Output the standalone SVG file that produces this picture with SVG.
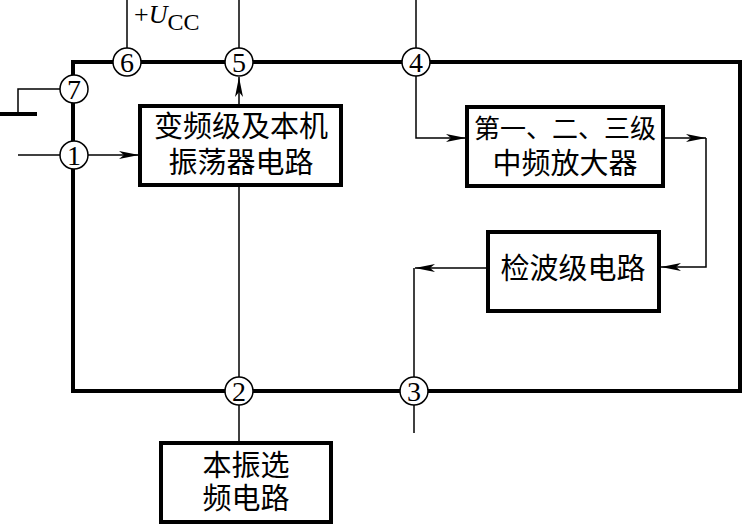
<svg xmlns="http://www.w3.org/2000/svg" width="743" height="525" viewBox="0 0 743 525">
<style>
.frame{fill:none;stroke:#000;stroke-width:4}
.box{fill:#fff;stroke:#000;stroke-width:4}
.wire{fill:none;stroke:#000;stroke-width:1.5}
.pin{fill:#fff;stroke:#000;stroke-width:1.5}
.num{font-family:"Liberation Serif",serif;font-size:28px;text-anchor:middle;fill:#000}
.cjk{font-family:"Liberation Serif","Noto Sans CJK SC",serif;font-size:29px;text-anchor:middle;fill:#000}
.lbl{font-family:"Liberation Serif",serif;fill:#000}
</style>
<defs>
<marker id="arr" viewBox="0 0 20 10" refX="20" refY="5" markerWidth="20" markerHeight="10" markerUnits="userSpaceOnUse" orient="auto">
<path d="M0,1 L20,5 L0,9 L5,5 Z" fill="#000"/>
</marker>
</defs>
<rect width="743" height="525" fill="#fff"/>
<g id="frame"><rect class="frame" x="73" y="62" width="667" height="329"/></g>
<g id="connectors">
<line class="wire" x1="127" y1="0" x2="127" y2="48"/>
<line class="wire" x1="239" y1="0" x2="239" y2="48"/>
<line class="wire" x1="239" y1="106" x2="239" y2="77" marker-end="url(#arr)"/>
<line class="wire" x1="416" y1="0" x2="416" y2="48"/>
<polyline class="wire" points="416,76 416,138 466,138" marker-end="url(#arr)"/>
<polyline class="wire" points="60,89 18,89 18,114"/>
<line x1="0" y1="114" x2="37" y2="114" stroke="#000" stroke-width="4"/>
<line class="wire" x1="18" y1="155" x2="60" y2="155"/>
<line class="wire" x1="88" y1="155" x2="139" y2="155" marker-end="url(#arr)"/>
<line class="wire" x1="239" y1="186" x2="239" y2="377"/>
<line class="wire" x1="239" y1="405" x2="239" y2="442"/>
<line class="wire" x1="663" y1="138" x2="706" y2="138" marker-end="url(#arr)"/>
<polyline class="wire" points="706,138 706,267 661,267" marker-end="url(#arr)"/>
<line class="wire" x1="487" y1="268" x2="415" y2="268" marker-end="url(#arr)"/>
<line class="wire" x1="414" y1="268" x2="414" y2="377"/>
<line class="wire" x1="414" y1="405" x2="414" y2="433"/>
</g>
<g id="pin6"><circle class="pin" cx="127" cy="62" r="14"/><text class="num" x="127" y="72">6</text></g>
<g id="pin5"><circle class="pin" cx="239" cy="62" r="14"/><text class="num" x="239" y="72">5</text></g>
<g id="pin4"><circle class="pin" cx="416" cy="62" r="14"/><text class="num" x="416" y="72">4</text></g>
<g id="pin7"><circle class="pin" cx="74" cy="89" r="14"/><text class="num" x="74" y="99">7</text></g>
<g id="pin1"><circle class="pin" cx="74" cy="155" r="14"/><text class="num" x="74" y="165">1</text></g>
<g id="pin2"><circle class="pin" cx="239" cy="391" r="14"/><text class="num" x="239" y="401">2</text></g>
<g id="pin3"><circle class="pin" cx="414" cy="391" r="14"/><text class="num" x="414" y="401">3</text></g>
<g id="vcc"><text class="lbl" x="134" y="23" style="font-size:26px">+<tspan font-style="italic">U</tspan><tspan style="font-size:24px" dy="7">CC</tspan></text></g>
<g id="mixer"><rect class="box" x="140" y="106" width="201" height="79"/>
<text class="cjk" x="241" y="137">变频级及本机</text><text class="cjk" x="241" y="173">振荡器电路</text></g>
<g id="ifamp"><rect class="box" x="467" y="107" width="196" height="79"/>
<text class="cjk" x="565" y="138" style="font-size:26px">第一、二、三级</text><text class="cjk" x="565" y="174">中频放大器</text></g>
<g id="detector"><rect class="box" x="488" y="232" width="171" height="79"/>
<text class="cjk" x="573" y="279">检波级电路</text></g>
<g id="oscsel"><rect class="box" x="161" y="443" width="170" height="79"/>
<text class="cjk" x="246" y="476">本振选</text><text class="cjk" x="246" y="509">频电路</text></g>
</svg>
